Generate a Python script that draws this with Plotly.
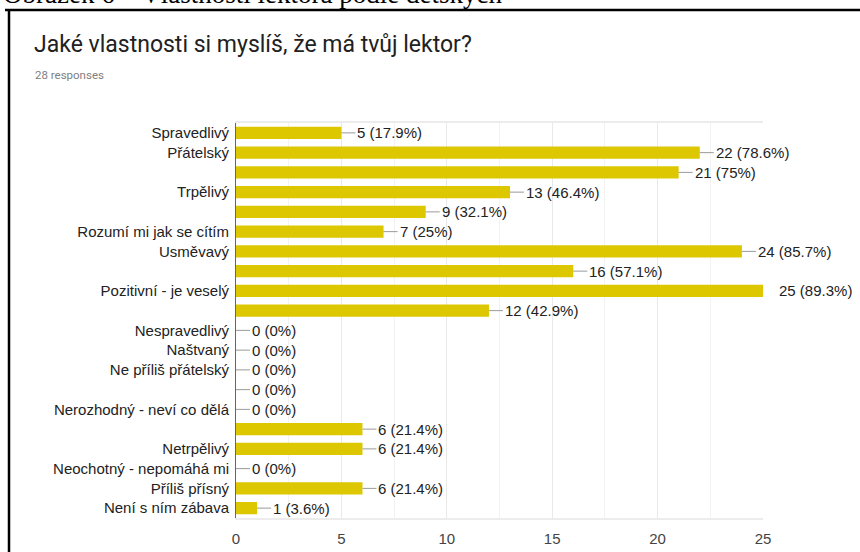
import plotly.graph_objects as go

labels = ["Spravedlivý", "Přátelský", "", "Trpělivý", "", "Rozumí mi jak se cítím",
          "Usměvavý", "", "Pozitivní - je veselý", "", "Nespravedlivý", "Naštvaný",
          "Ne příliš přátelský", "", "Nerozhodný - neví co dělá", "", "Netrpělivý",
          "Neochotný - nepomáhá mi", "Příliš přísný", "Není s ním zábava"]
counts = [5, 22, 21, 13, 9, 7, 24, 16, 25, 12, 0, 0, 0, 0, 0, 6, 6, 0, 6, 1]
percents = ["17.9%", "78.6%", "75%", "46.4%", "32.1%", "25%", "85.7%", "57.1%", "89.3%", "42.9%",
            "0%", "0%", "0%", "0%", "0%", "21.4%", "21.4%", "0%", "21.4%", "3.6%"]
x_ticks = [0, 5, 10, 15, 20, 25]
title = "Jaké vlastnosti si myslíš, že má tvůj lektor?"
subtitle = "28 responses"
caption = "Obrázek 6 – Vlastnosti lektora podle dětských"

W, H = 860, 552
L, R, T, B = 236, 97, 123, 34
pw, ph = W - L - R, H - T - B

def px(x):
    return (x - L) / pw

def py(y):
    return (H - B - y) / ph

idx = list(range(len(labels)))
fig = go.Figure(go.Bar(
    x=counts, y=idx, orientation="h", width=0.62,
    marker=dict(color="#dcc700", line=dict(width=0)),
    hoverinfo="skip",
))

xmax = x_ticks[-1]
annotations = []
for i, (c, p) in enumerate(zip(counts, percents)):
    annotations.append(dict(
        x=c, y=i, xref="x", yref="y", text=f"{c} ({p})",
        showarrow=True, ax=14, ay=0, xanchor="left", yanchor="middle",
        arrowhead=0, arrowwidth=1, standoff=0,
        arrowcolor="rgba(0,0,0,0)" if c >= xmax else "#9a9a9a",
        font=dict(family="Liberation Sans, Arial", size=15, color="#222222"),
    ))

annotations.append(dict(
    x=px(33), y=py(75), xref="paper", yref="paper", text=subtitle, showarrow=False,
    xanchor="left", yanchor="middle",
    font=dict(family="Roboto", size=11.5, color="#808080"),
))
annotations.append(dict(
    x=px(32), y=py(44), xref="paper", yref="paper", text=title, showarrow=False,
    xanchor="left", yanchor="middle",
    font=dict(family="Roboto", size=23, color="#212121"),
))
annotations.append(dict(
    x=px(1), y=py(-6), xref="paper", yref="paper", text=caption, showarrow=False,
    xanchor="left", yanchor="middle",
    font=dict(family="Liberation Serif", size=27, color="#000000"),
))

shapes = [
    dict(type="line", xref="paper", yref="paper", x0=px(5), x1=px(875), y0=py(10), y1=py(10),
         line=dict(color="#000000", width=2.5)),
    dict(type="line", xref="paper", yref="paper", x0=px(9), x1=px(9), y0=py(9), y1=py(570),
         line=dict(color="#000000", width=2.5)),
]

fig.update_layout(
    width=W, height=H,
    margin=dict(l=L, r=R, t=T, b=B, autoexpand=False),
    paper_bgcolor="white", plot_bgcolor="white",
    showlegend=False,
    annotations=annotations,
    shapes=shapes,
    xaxis=dict(
        range=[0, xmax], tickvals=x_ticks, ticktext=[str(t) for t in x_ticks],
        showgrid=True, gridcolor="#e9e9e9", gridwidth=1,
        minor=dict(dtick=2.5, showgrid=True, gridcolor="#f2f2f2", gridwidth=1),
        zeroline=False, showline=True, linecolor="#ececec", linewidth=2, mirror=True,
        ticks="", tickfont=dict(family="Liberation Sans, Arial", size=15, color="#444444"),
        ticklabelstandoff=6, fixedrange=True,
    ),
    yaxis=dict(
        range=[len(labels) - 0.5, -0.5],
        tickvals=[i for i, l in enumerate(labels) if l],
        ticktext=[l for l in labels if l],
        showgrid=False, zeroline=False,
        showline=True, linecolor="#666666", linewidth=1,
        ticks="", tickfont=dict(family="Liberation Sans, Arial", size=15, color="#222222"),
        ticklabelstandoff=3, fixedrange=True,
    ),
)

fig.write_html(
    "out.html",
    config={"displayModeBar": False},
    post_script="document.body.style.margin='0';document.body.style.overflow='hidden';",
)
